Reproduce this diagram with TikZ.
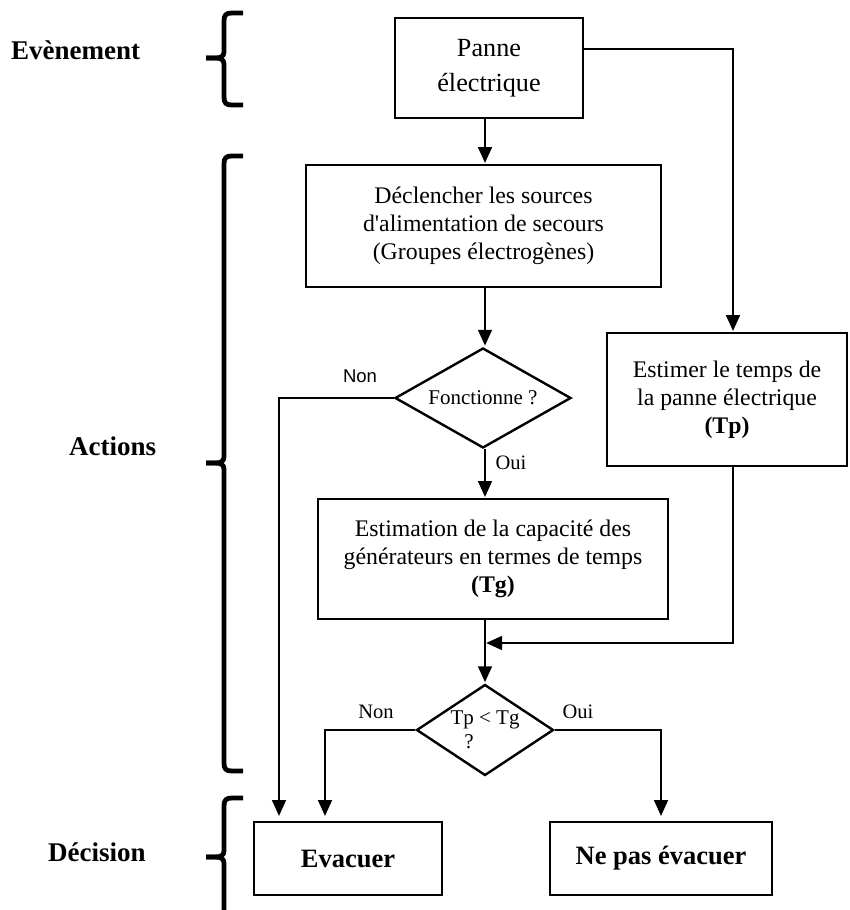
\documentclass[tikz,border=0pt]{standalone}
\usepackage{fontspec}
\setmainfont{Liberation Serif}
\newfontfamily\labelsans{Liberation Sans}
\usetikzlibrary{arrows.meta,shapes.geometric}

\begin{document}
\begin{tikzpicture}[x=1pt,y=-1pt,
  box/.style={draw, line width=1.8pt, inner sep=0pt, align=center,
    font=\fontsize{23.8}{28}\selectfont},
  dia/.style={draw, diamond, line width=2.4pt, inner sep=0pt, align=center,
    font=\fontsize{21}{24}\selectfont},
  link/.style={line width=2.9pt, -{Triangle[length=16pt,width=13.5pt]}, shorten >=1pt},
  brace/.style={line width=4.8pt, line cap=butt, line join=round},
  side/.style={font=\fontsize{27}{30}\selectfont\bfseries, anchor=west, inner sep=0pt},
  tag/.style={font=\fontsize{20.5}{24}\selectfont, inner sep=0pt},
]
\useasboundingbox (0,0) rectangle (849,910);

% boxes and decisions
\node[box, minimum width=188pt, minimum height=100pt,
      font=\fontsize{26.2}{35}\selectfont] (panne) at (489,68) {Panne\\électrique};
\node[box, minimum width=355pt, minimum height=122pt] (declencher) at (483.5,226)
  {Déclencher les sources\\d\textquotesingle alimentation de secours\\(Groupes électrogènes)};
\node[dia, minimum width=176pt, minimum height=100pt, aspect=1.76] (fonct) at (483,398) {Fonctionne ?};
\node[box, minimum width=350pt, minimum height=120pt] (estim) at (493,559)
  {Estimation de la capacité des\\générateurs en termes de temps\\\textbf{(Tg)}};
\node[box, minimum width=240pt, minimum height=133pt] (tp) at (727,399.5)
  {Estimer le temps de\\la panne électrique\\\textbf{(Tp)}};
\node[dia, minimum width=137pt, minimum height=91pt, aspect=1.5] (cmp) at (485,730)
  {Tp < Tg\\\makebox[0pt]{?\hspace*{32pt}}};
\node[box, minimum width=188pt, minimum height=73pt,
      font=\fontsize{26.5}{30}\selectfont\bfseries] (evac) at (348,858.5) {Evacuer};
\node[box, minimum width=222pt, minimum height=73pt,
      font=\fontsize{26.5}{30}\selectfont\bfseries] (nepas) at (661,858.5) {Ne pas évacuer};

% routing columns
\coordinate (axis) at (485,0);
\coordinate (rtop) at (733,49);
\coordinate (lcol) at (279,0);
\coordinate (merge) at (485,643);
\coordinate (ncol) at (325,0);
\coordinate (ocol) at (661,0);

% connectors
\draw[link] (panne.south -| axis) -- (declencher.north -| axis);
\draw[link] (panne.east |- rtop) -- (rtop) -- (tp.north -| rtop);
\draw[link] (declencher.south -| axis) -- (fonct.north -| axis);
\draw[link, shorten >=5pt] (fonct.west) -| (lcol |- evac.north);
\draw[link] (fonct.south -| axis) -- (estim.north -| axis);
\draw[link] (estim.south -| axis) -- (cmp.north -| axis);
\draw[link] (tp.south -| rtop) |- (merge);
\draw[link, shorten >=5pt] (cmp.west) -| (ncol |- evac.north);
\draw[link, shorten >=5pt] (cmp.east) -| (ocol |- nepas.north);

% branch labels
\node[font=\fontsize{18.5}{22}\labelsans, inner sep=0pt] (non1) at (360,376) {Non};
\node[tag] (oui1) at (511,463) {Oui};
\node[tag] (non2) at (376,712) {Non};
\node[tag] (oui2) at (578,712) {Oui};

% phase labels
\node[side] (evt) at (11,50) {Evènement};
\node[side] (act) at (69,446) {Actions};
\node[side] (dec) at (48,852) {Décision};

% braces
\draw[brace] (243,13) -- (232,13) .. controls (226,13) and (224,15) .. (224,21)
  -- (224,52) .. controls (224,56) and (221,58) .. (216,58) -- (206,58);
\draw[brace] (206,58) -- (216,58) .. controls (221,58) and (224,60) .. (224,64)
  -- (224,97) .. controls (224,103) and (226,105) .. (232,105) -- (243,105);

\draw[brace] (243,156) -- (232,156) .. controls (226,156) and (224,158) .. (224,164)
  -- (224,457) .. controls (224,461) and (221,463) .. (216,463) -- (206,463);
\draw[brace] (206,463) -- (216,463) .. controls (221,463) and (224,465) .. (224,469)
  -- (224,763) .. controls (224,769) and (226,771) .. (232,771) -- (243,771);

\draw[brace] (243,798) -- (232,798) .. controls (226,798) and (224,800) .. (224,806)
  -- (224,851) .. controls (224,855) and (221,857) .. (216,857) -- (206,857);
\draw[brace] (206,857) -- (216,857) .. controls (221,857) and (224,859) .. (224,863)
  -- (224,915);
\end{tikzpicture}
\end{document}
